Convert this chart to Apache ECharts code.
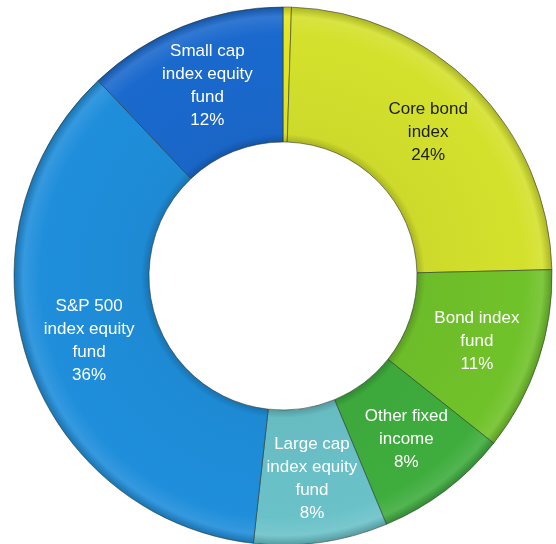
<!DOCTYPE html>
<html>
<head>
<meta charset="utf-8">
<script src="https://cdn.jsdelivr.net/npm/echarts@6/dist/echarts.min.js"></script>
<style>
  html, body { margin: 0; padding: 0; background: #ffffff; }
  #chart { width: 556px; height: 544px; }
</style>
</head>
<body>
<div id="chart"></div>
<script>
// Portfolio allocation, clockwise from 12 o'clock
const categories = [
  'Cash',
  'Core bond\nindex',
  'Bond index\nfund',
  'Other fixed\nincome',
  'Large cap\nindex equity\nfund',
  'S&P 500\nindex equity\nfund',
  'Small cap\nindex equity\nfund'
];
const shares = [0.5, 24, 11, 8, 8, 36, 12];
const showLabel = [false, true, true, true, true, true, true];

const baseColors = ['#e6e61e', '#d4e12c', '#70c22a', '#3fad3e', '#6ac2c8', '#1f8edb', '#1a69cd'];
const labelColors = ['#222', '#1e1e1e', '#ffffff', '#ffffff', '#ffffff', '#ffffff', '#ffffff'];

const cx = 283, cy = 276, rIn = 134, rOut = 269;

function shade(hex, f) {
  const n = parseInt(hex.slice(1), 16);
  let r = (n >> 16) & 255, g = (n >> 8) & 255, b = n & 255;
  const mix = f < 0 ? 0 : 255, t = Math.abs(f);
  r = Math.round(r + (mix - r) * t);
  g = Math.round(g + (mix - g) * t);
  b = Math.round(b + (mix - b) * t);
  return 'rgb(' + r + ',' + g + ',' + b + ')';
}

function ringFill(hex) {
  const k = rIn / rOut;
  return {
    type: 'radial', x: cx, y: cy, r: rOut, global: true,
    colorStops: [
      { offset: 0, color: shade(hex, -0.22) },
      { offset: k, color: shade(hex, -0.2) },
      { offset: k + 0.03, color: shade(hex, -0.03) },
      { offset: 0.9, color: hex },
      { offset: 0.965, color: shade(hex, 0.1) },
      { offset: 1, color: shade(hex, -0.2) }
    ]
  };
}

const data = categories.map((name, i) => ({
  name: name,
  value: shares[i],
  itemStyle: { color: ringFill(baseColors[i]) },
  label: { show: showLabel[i], color: labelColors[i] }
}));

const chart = echarts.init(document.getElementById('chart'), null, { renderer: 'canvas' });
chart.setOption({
  backgroundColor: '#ffffff',
  animation: false,
  series: [{
    type: 'pie',
    center: [cx, cy],
    radius: [rIn, rOut],
    startAngle: 90,
    clockwise: true,
    avoidLabelOverlap: false,
    itemStyle: { borderColor: 'rgba(40,50,40,0.55)', borderWidth: 1 },
    label: {
      position: 'inside',
      fontFamily: '"Liberation Sans", Arial, sans-serif',
      fontSize: 17,
      lineHeight: 23,
      align: 'center',
      formatter: p => p.name + '\n' + p.value + '%'
    },
    labelLine: { show: false },
    emphasis: { disabled: true },
    data: data
  }]
});
</script>
</body>
</html>
